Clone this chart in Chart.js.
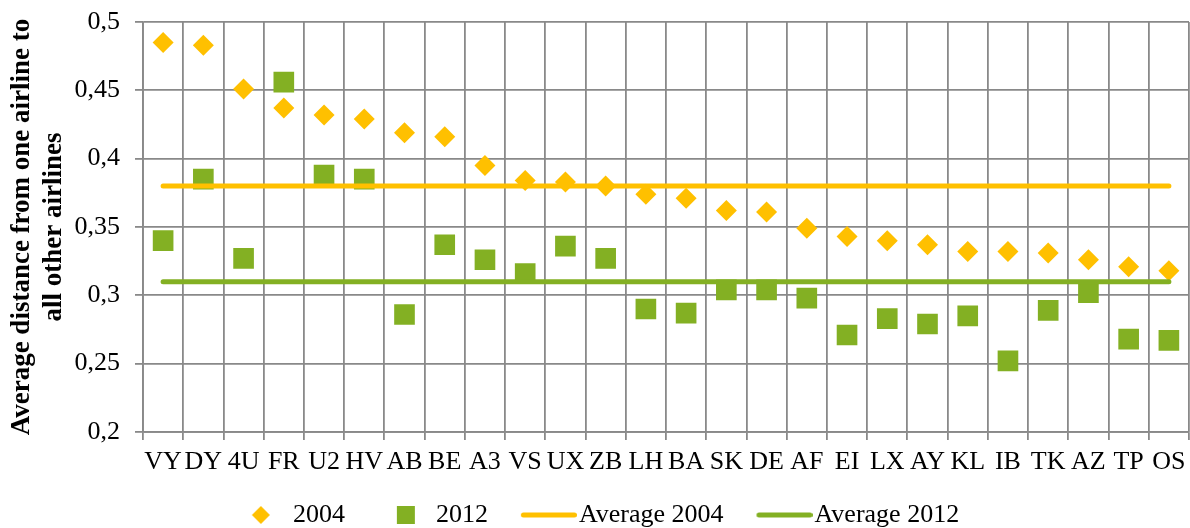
<!DOCTYPE html>
<html>
<head>
<meta charset="utf-8">
<script src="https://cdn.jsdelivr.net/npm/chart.js@4.4.1/dist/chart.umd.min.js"></script>
<style>
	html, body { margin: 0; padding: 0; background: #fff; overflow: hidden; }
	#wrap { width: 1190px; height: 528px; }
	canvas { display: block; }
</style>
</head>
<body>
<div id="wrap"><canvas id="chart"></canvas></div>
<script>
const airlines = ['VY', 'DY', '4U', 'FR', 'U2', 'HV', 'AB', 'BE', 'A3', 'VS', 'UX', 'ZB', 'LH',
	'BA', 'SK', 'DE', 'AF', 'EI', 'LX', 'AY', 'KL', 'IB', 'TK', 'AZ', 'TP', 'OS'];

const distance2004 = [0.485, 0.483, 0.451, 0.437, 0.432, 0.429, 0.419, 0.416, 0.395, 0.384, 0.383, 0.380, 0.374,
	0.371, 0.362, 0.361, 0.349, 0.343, 0.340, 0.337, 0.332, 0.332, 0.331, 0.326, 0.321, 0.318];

const distance2012 = [0.340, 0.385, 0.327, 0.456, 0.388, 0.385, 0.286, 0.337, 0.326, 0.316, 0.336, 0.327, 0.290,
	0.287, 0.304, 0.304, 0.298, 0.271, 0.283, 0.279, 0.285, 0.252, 0.289, 0.302, 0.268, 0.267];

const average2004 = 0.38;
const average2012 = 0.31;

const yMin = 0.2;
const yMax = 0.5;
const yStep = 0.05;

const gold = '#FFC000';
const green = '#83B023';
const gridGrey = '#898989';
const serif = "'Liberation Serif', 'Times New Roman', serif";

// small canvases used as legend symbols; drawn a bit right of centre so the
// symbols sit close to their text like in the original
function legendIcon(kind, color) {
	const c = document.createElement('canvas');
	c.width = 72;
	c.height = 20;
	const g = c.getContext('2d');
	g.fillStyle = color;
	g.strokeStyle = color;
	if (kind === 'diamond') {
		g.beginPath();
		g.moveTo(42, 1);
		g.lineTo(51, 10);
		g.lineTo(42, 19);
		g.lineTo(33, 10);
		g.closePath();
		g.fill();
	} else if (kind === 'square') {
		g.fillRect(35, 1, 18, 18);
	} else {
		g.lineWidth = 5;
		g.lineCap = 'round';
		g.beginPath();
		g.moveTo(18.5, 10);
		g.lineTo(69.5, 10);
		g.stroke();
	}
	return c;
}

const icons = [
	legendIcon('diamond', gold),
	legendIcon('square', green),
	legendIcon('line', gold),
	legendIcon('line', green),
];

const first = airlines[0];
const last = airlines[airlines.length - 1];

new Chart(document.getElementById('chart'), {
	type: 'line',
	data: {
		labels: airlines,
		datasets: [
			{
				label: '2004',
				data: distance2004,
				showLine: false,
				pointStyle: 'rectRot',
				pointRadius: 10.5,
				pointBorderWidth: 0,
				backgroundColor: gold,
				borderColor: gold,
				order: 3,
			},
			{
				label: '2012',
				data: distance2012,
				showLine: false,
				pointStyle: 'rect',
				pointRadius: 14.6,
				pointBorderWidth: 0,
				backgroundColor: green,
				borderColor: green,
				order: 2,
			},
			{
				label: 'Average 2004',
				data: [{ x: first, y: average2004 }, { x: last, y: average2004 }],
				borderColor: gold,
				backgroundColor: gold,
				borderWidth: 5,
				borderCapStyle: 'round',
				pointRadius: 0,
				order: 1,
			},
			{
				label: 'Average 2012',
				data: [{ x: first, y: average2012 }, { x: last, y: average2012 }],
				borderColor: green,
				backgroundColor: green,
				borderWidth: 5,
				borderCapStyle: 'round',
				pointRadius: 0,
				order: 0,
			},
		],
	},
	options: {
		responsive: true,
		maintainAspectRatio: false,
		animation: false,
		layout: { autoPadding: false, padding: { top: 22, right: 1, left: 0, bottom: -10 } },
		plugins: {
			tooltip: { enabled: false },
			legend: {
				position: 'bottom',
				labels: {
					usePointStyle: true,
					pointStyleWidth: 50,
					boxHeight: 20,
					padding: 28,
					color: '#000',
					font: { family: serif, size: 26 },
					sort: (a, b) => a.datasetIndex - b.datasetIndex,
					generateLabels(chart) {
						const items = Chart.defaults.plugins.legend.labels.generateLabels(chart);
						items.forEach((item) => {
							item.pointStyle = icons[item.datasetIndex];
						});
						return items;
					},
				},
			},
		},
		scales: {
			x: {
				type: 'category',
				offset: true,
				grid: { offset: true, color: gridGrey, lineWidth: 1.8, tickLength: 8 },
				border: { color: gridGrey, width: 1.8 },
				ticks: {
					autoSkip: false,
					maxRotation: 0,
					padding: 9,
					color: '#000',
					font: { family: serif, size: 26, lineHeight: 1 },
				},
				afterFit(scale) {
					scale.paddingLeft = 0;
					scale.paddingRight = 0;
					scale.height -= 10;
				},
			},
			y: {
				min: yMin,
				max: yMax,
				grid: { color: gridGrey, lineWidth: 1.8, tickLength: 8 },
				border: { color: gridGrey, width: 1.8 },
				ticks: {
					stepSize: yStep,
					padding: 15,
					color: '#000',
					font: { family: serif, size: 26 },
					callback: (v) => String(Math.round(v * 100) / 100).replace('.', ','),
				},
				title: {
					display: true,
					text: ['Average distance from one airline to', 'all other airlines'],
					color: '#000',
					font: { family: serif, size: 27, weight: 'bold', lineHeight: 1.18 },
					padding: { top: 6, bottom: 4 },
				},
				afterFit(scale) {
					scale.width = 143;
					scale.paddingTop = 0;
					scale.paddingBottom = 0;
				},
			},
		},
	},
});
</script>
</body>
</html>
